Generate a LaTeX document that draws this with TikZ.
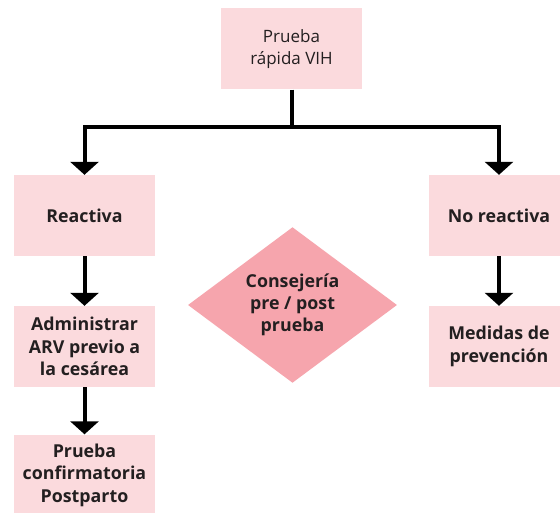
\documentclass[tikz,border=0pt]{standalone}
\usepackage{fontspec}
\setmainfont{Open Sans}
\usetikzlibrary{arrows.meta,shapes.geometric,calc}
\definecolor{boxpink}{RGB}{251,218,221}
\definecolor{diapink}{RGB}{246,165,173}
\definecolor{txt}{RGB}{35,31,32}
\tikzset{
  pbox/.style={fill=boxpink, minimum width=141pt, minimum height=81pt, inner sep=0pt,
    align=center, text=txt, font=\fontsize{17.8}{22.5}\selectfont\bfseries},
  flow/.style={line width=4pt, -{Triangle[width=28pt,length=13pt]}},
  plain/.style={line width=4pt}
}
\begin{document}
\begin{tikzpicture}[x=1pt,y=-1pt]
\clip (0,0) rectangle (560,513);
\fill[white] (0,0) rectangle (560,513);
\node[pbox, font=\fontsize{17}{22}\selectfont] (top) at (291.5,49) {Prueba\\rápida VIH};
\node[pbox] (re) at (84.5,215.5) {Reactiva};
\node[pbox] (adm) at (84.5,346.5) {Administrar\\ARV previo a\\la cesárea};
\node[pbox] (conf) at (84.5,475) {Prueba\\confirmatoria\\Postparto};
\node[pbox] (nr) at (499,215.5) {No reactiva};
\node[pbox] (med) at (499,346.5) {Medidas de\\prevención};
\node[diamond, fill=diapink, minimum width=209pt, minimum height=152pt, inner sep=0pt,
  align=center, text=txt, font=\fontsize{17.8}{22}\selectfont\bfseries] (cons) at (292.5,305) {Consejería\\pre / post\\prueba};
\coordinate (bar) at (291.5,127);
\draw[plain] (top.south) -- (bar);
\draw[flow] (bar) -| (re.north);
\draw[flow] (bar) -| (nr.north);
\draw[flow] (re.south) -- (adm.north);
\draw[flow] (adm.south) -- (conf.north);
\draw[flow] (nr.south) -- (med.north);
\end{tikzpicture}
\end{document}
